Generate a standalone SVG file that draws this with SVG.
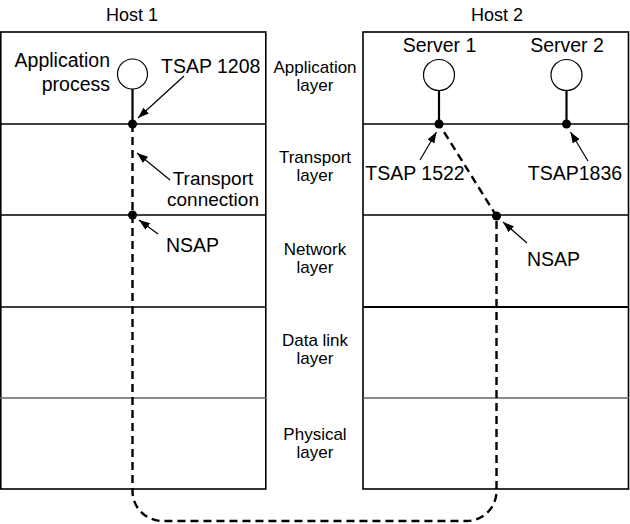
<svg xmlns="http://www.w3.org/2000/svg" width="630" height="524" viewBox="0 0 630 524">
<defs>
<style>
.t{font-family:"Liberation Sans",Arial,sans-serif;font-size:19.5px;fill:#000}
.h{font-family:"Liberation Sans",Arial,sans-serif;font-size:18px;fill:#000;text-anchor:middle}
.m{font-family:"Liberation Sans",Arial,sans-serif;font-size:17px;fill:#000;text-anchor:middle}
.box{fill:#fff;stroke:#000;stroke-width:1.6}
.sep{stroke:#000;stroke-width:1.3}
.sepg{stroke:#666;stroke-width:1.3}
.proc{fill:#fff;stroke:#000;stroke-width:1.2}
.stem{stroke:#000;stroke-width:2.2}
.dot{fill:#000}
.arr{stroke:#000;stroke-width:1.2;fill:none;marker-end:url(#ah)}
.dash{stroke:#000;stroke-width:2.4;fill:none;stroke-dasharray:8 5}
</style>
<marker id="ah" markerUnits="userSpaceOnUse" markerWidth="13" markerHeight="10" refX="11" refY="4" orient="auto">
<path d="M0,0 L11,4 L0,8 Z" fill="#000"/>
</marker>
</defs>
<g id="host1">
<rect class="box" x="0.8" y="32" width="265" height="457"/>
<line class="sep" x1="0" y1="124" x2="266" y2="124"/>
<line class="sep" x1="0" y1="215" x2="266" y2="215"/>
<line class="sep" x1="0" y1="307" x2="266" y2="307"/>
<line class="sepg" x1="0" y1="398" x2="266" y2="398"/>
<text class="h" x="132" y="20.5">Host 1</text>
</g>
<g id="host2">
<rect class="box" x="363" y="32" width="265.5" height="457"/>
<line class="sep" x1="363" y1="124" x2="629" y2="124"/>
<line class="sep" x1="363" y1="215" x2="629" y2="215"/>
<line class="sep" x1="363" y1="307" x2="629" y2="307" style="stroke-width:1.8"/>
<line class="sepg" x1="363" y1="398" x2="629" y2="398"/>
<text class="h" x="497" y="20.5">Host 2</text>
</g>
<g id="layer-labels">
<text class="m" x="315" y="73">Application</text>
<text class="m" x="315" y="91">layer</text>
<text class="m" x="315" y="163">Transport</text>
<text class="m" x="315" y="181">layer</text>
<text class="m" x="315" y="255">Network</text>
<text class="m" x="315" y="273">layer</text>
<text class="m" x="315" y="346">Data link</text>
<text class="m" x="315" y="364">layer</text>
<text class="m" x="315" y="440">Physical</text>
<text class="m" x="315" y="458">layer</text>
</g>
<g id="app-process">
<circle class="proc" cx="132.5" cy="74" r="15"/>
<line class="stem" x1="132.5" y1="89" x2="132.5" y2="124"/>
<text class="t" x="110" y="67" text-anchor="end">Application</text>
<text class="t" x="110" y="91" text-anchor="end">process</text>
</g>
<g id="server1">
<circle class="proc" cx="439" cy="75" r="15.5"/>
<line class="stem" x1="439" y1="90.5" x2="439" y2="124"/>
<text class="t" x="439.5" y="52" text-anchor="middle">Server 1</text>
</g>
<g id="server2">
<circle class="proc" cx="566.5" cy="75" r="15.5"/>
<line class="stem" x1="566.5" y1="90.5" x2="566.5" y2="124"/>
<text class="t" x="567" y="52" text-anchor="middle">Server 2</text>
</g>
<g id="connectors">
<path class="dash" d="M132.5,124 V491 A30,30 0 0 0 162.5,521 H466.5 A30,30 0 0 0 496.5,491 V216 L439,124"/>
<line class="arr" x1="184" y1="76" x2="138" y2="118"/>
<line class="arr" x1="170" y1="180" x2="137" y2="153"/>
<line class="arr" x1="158" y1="234" x2="139" y2="220"/>
<line class="arr" x1="420" y1="160" x2="436.5" y2="132"/>
<line class="arr" x1="588" y1="161" x2="570.5" y2="132"/>
<line class="arr" x1="527" y1="243" x2="503" y2="222"/>
</g>
<g id="saps">
<circle class="dot" cx="132.5" cy="124" r="4.5"/>
<circle class="dot" cx="132.5" cy="215" r="4.5"/>
<circle class="dot" cx="439" cy="124" r="4.5"/>
<circle class="dot" cx="566.5" cy="124" r="4.5"/>
<circle class="dot" cx="496.5" cy="216" r="4.5"/>
</g>
<g id="labels">
<text class="t" x="161" y="73">TSAP 1208</text>
<text class="t" x="213" y="185" text-anchor="middle" style="font-size:19px">Transport</text>
<text class="t" x="213" y="205.5" text-anchor="middle" style="font-size:19px">connection</text>
<text class="t" x="166" y="252">NSAP</text>
<text class="t" x="415" y="180" text-anchor="middle">TSAP 1522</text>
<text class="t" x="575" y="180" text-anchor="middle">TSAP1836</text>
<text class="t" x="527" y="266">NSAP</text>
</g>
</svg>
